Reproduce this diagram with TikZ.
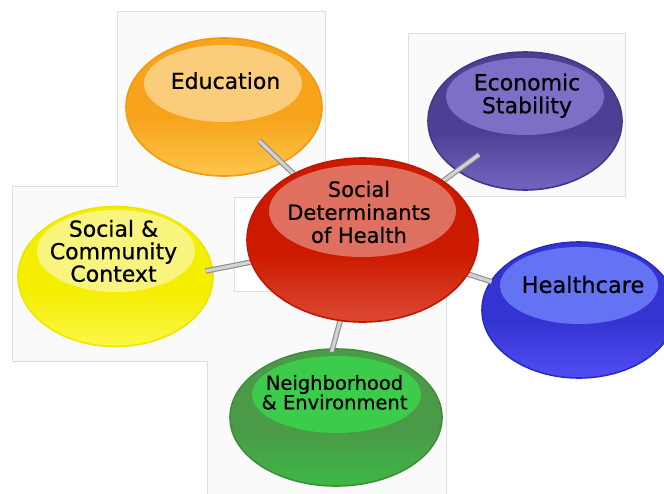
\documentclass[tikz,border=0pt]{standalone}
\usepackage{fontspec}
\setmainfont{DejaVu Sans}
\newfontfamily\lblfont{DejaVu Sans}[BoldFont={*}, BoldFeatures={FakeBold=0.6}]
\usetikzlibrary{shapes.geometric}
\definecolor{bgfill}{HTML}{FAFAFA}
\definecolor{bgline}{HTML}{DEDEDE}
\definecolor{barfill}{HTML}{D2D2D2}
\definecolor{baredge}{HTML}{8C8C8C}
\definecolor{eduTop}{HTML}{F7A41C}
\definecolor{eduBot}{HTML}{FCC247}
\definecolor{eduRim}{HTML}{F29A10}
\definecolor{eduHl}{HTML}{FBCD7A}
\definecolor{ecoTop}{HTML}{4F3F94}
\definecolor{ecoBot}{HTML}{7062BC}
\definecolor{ecoRim}{HTML}{45368A}
\definecolor{ecoHl}{HTML}{7C70C6}
\definecolor{cenTop}{HTML}{CC1A00}
\definecolor{cenBot}{HTML}{DA452F}
\definecolor{cenRim}{HTML}{BE1600}
\definecolor{cenHl}{HTML}{DF6F5E}
\definecolor{socTop}{HTML}{F4EE00}
\definecolor{socBot}{HTML}{FBF640}
\definecolor{socRim}{HTML}{EFE600}
\definecolor{socHl}{HTML}{F8F47E}
\definecolor{heaTop}{HTML}{3434D2}
\definecolor{heaBot}{HTML}{4C4CF2}
\definecolor{heaRim}{HTML}{2B2BC2}
\definecolor{heaHl}{HTML}{6472F4}
\definecolor{nbhTop}{HTML}{4A9A47}
\definecolor{nbhBot}{HTML}{3FB545}
\definecolor{nbhRim}{HTML}{3E8E3C}
\definecolor{nbhHl}{HTML}{3DCB4B}
\pgfdeclareverticalshading{eduS}{100bp}{color(0bp)=(eduBot); color(27bp)=(eduBot); color(46bp)=(eduTop); color(100bp)=(eduTop)}
\pgfdeclareverticalshading{ecoS}{100bp}{color(0bp)=(ecoBot); color(27bp)=(ecoBot); color(46bp)=(ecoTop); color(100bp)=(ecoTop)}
\pgfdeclareverticalshading{cenS}{100bp}{color(0bp)=(cenBot); color(27bp)=(cenBot); color(46bp)=(cenTop); color(100bp)=(cenTop)}
\pgfdeclareverticalshading{socS}{100bp}{color(0bp)=(socBot); color(27bp)=(socBot); color(46bp)=(socTop); color(100bp)=(socTop)}
\pgfdeclareverticalshading{heaS}{100bp}{color(0bp)=(heaBot); color(27bp)=(heaBot); color(46bp)=(heaTop); color(100bp)=(heaTop)}
\pgfdeclareverticalshading{nbhS}{100bp}{color(0bp)=(nbhBot); color(27bp)=(nbhBot); color(46bp)=(nbhTop); color(100bp)=(nbhTop)}
\tikzset{
  bubble/.style={ellipse, inner sep=0pt, outer sep=0pt, line width=1.6pt, shade},
  shine/.style={ellipse, inner sep=0pt, outer sep=0pt},
  lbl/.style={align=center, inner sep=0pt, text=black},
  bar/.style={draw=baredge, line width=1.1pt, double=barfill, double distance=3.2pt},
  frame/.style={fill=bgfill, draw=bgline, line width=0.8pt}
}
\begin{document}
\begin{tikzpicture}[x=1pt,y=-1pt]
\useasboundingbox (0,0) rectangle (664,493);
\fill[white] (0,0) rectangle (664,493);
% background frames
\path[frame] (117,11) -- (325,11) -- (325,175) -- (408,175) -- (408,33) -- (625,33)
  -- (625,196) -- (446,196) -- (446,500) -- (207,500) -- (207,361) -- (12,361)
  -- (12,186) -- (117,186) -- cycle;
\path[fill=white, draw=bgline, line width=0.8pt] (234,197) rectangle (330,291);

% Education
\node[bubble, minimum width=196pt, minimum height=138pt, draw=eduRim, shading=eduS] (edu) at (224,107) {};
\node[shine, minimum width=158pt, minimum height=77pt, fill=eduHl] (eduhl) at (223,83.5) {};
\node[lbl, font=\lblfont\bfseries\fontsize{22}{23}\selectfont] (edut) at (225.5,80.7) {Education};

% Economic Stability
\node[bubble, minimum width=194pt, minimum height=138pt, draw=ecoRim, shading=ecoS] (eco) at (525,121) {};
\node[shine, minimum width=158pt, minimum height=77pt, fill=ecoHl] (ecohl) at (525,96.5) {};
\node[lbl, font=\lblfont\bfseries\fontsize{22}{23}\selectfont] (ecot) at (527,95.7) {Economic\\Stability};

% Social & Community Context
\node[bubble, minimum width=195pt, minimum height=140pt, draw=socRim, shading=socS] (soc) at (115.5,276.5) {};
\node[shine, minimum width=158pt, minimum height=82pt, fill=socHl] (sochl) at (116,251) {};
\node[lbl, font=\lblfont\bfseries\fontsize{22}{22.5}\selectfont] (soct) at (113.5,251) {Social \&\\Community\\Context};

% Healthcare
\node[bubble, minimum width=194pt, minimum height=136pt, draw=heaRim, shading=heaS] (hea) at (579,310) {};
\node[shine, minimum width=158pt, minimum height=77pt, fill=heaHl] (heahl) at (579,285.5) {};
\node[lbl, font=\lblfont\bfseries\fontsize{22.5}{23}\selectfont] (heat) at (583,284.5) {Healthcare};

% Neighborhood & Environment
\node[bubble, minimum width=212pt, minimum height=137pt, draw=nbhRim, shading=nbhS] (nbh) at (336,417.5) {};
\node[shine, minimum width=169pt, minimum height=77pt, fill=nbhHl] (nbhhl) at (336.5,394.5) {};
\node[lbl, font=\lblfont\bfseries\fontsize{19.5}{19.5}\selectfont] (nbht) at (334.5,392.3) {Neighborhood\\\& Environment};

% connector bars (drawn under the central bubble)
\coordinate (cc) at (362.5,240);
\draw[bar, shorten >=49pt] (cc) -- (edu.center);
\draw[bar, shorten >=57pt] (cc) -- (eco.center);
\draw[bar, shorten >=-7pt] (cc) -- (soc.4);
\draw[bar, shorten >=92pt] (cc) -- (hea.center);
\draw[bar, shorten >=-3pt] (cc) -- (nbh.93);

% central bubble
\node[bubble, minimum width=231pt, minimum height=164pt, draw=cenRim, shading=cenS] (cen) at (cc) {};
\node[shine, minimum width=187pt, minimum height=92pt, fill=cenHl] (cenhl) at (362.5,211) {};
\node[lbl, font=\lblfont\bfseries\fontsize{21}{23}\selectfont] (cent) at (359,212) {Social\\Determinants\\of Health};
\end{tikzpicture}
\end{document}
